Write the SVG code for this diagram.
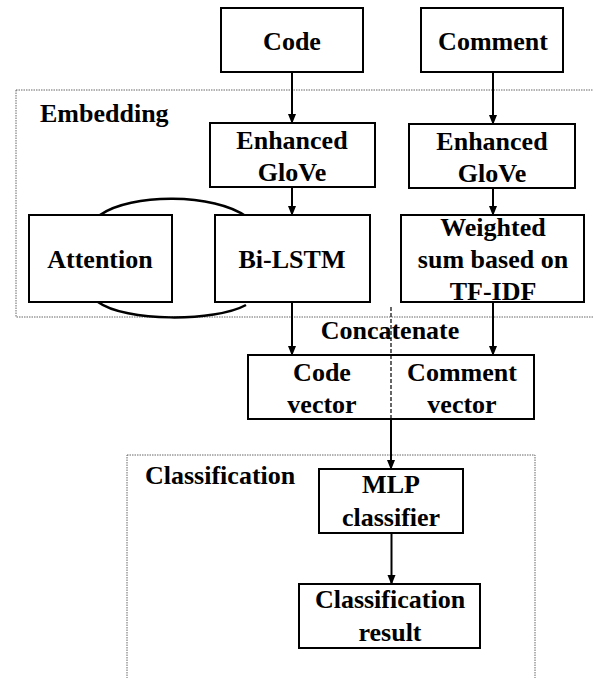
<svg xmlns="http://www.w3.org/2000/svg" width="593" height="678" viewBox="0 0 593 678">
<defs>
<marker id="ah" markerWidth="10" markerHeight="10" refX="9" refY="5" orient="auto" markerUnits="userSpaceOnUse">
<path d="M0,1 L10,5 L0,9 Z" fill="#000"/>
</marker>
<style>
text{font-family:"Liberation Serif","Times New Roman",serif;font-weight:bold;font-size:26px;fill:#000;text-anchor:middle}
.lbl{text-anchor:start}
.box{fill:#fff;stroke:#000;stroke-width:2}
.grp{fill:none;stroke:#666;stroke-width:1;stroke-dasharray:1.5,1}
.edge{fill:none;stroke:#000;stroke-width:2}
.arc{fill:none;stroke:#000;stroke-width:2.5}
.dash{fill:none;stroke:#000;stroke-width:1.2;stroke-dasharray:4,2}
</style>
</defs>
<rect width="593" height="678" fill="#fff"/>
<g id="embedding-group">
<rect class="grp" x="16" y="90" width="600" height="227"/>
<text class="lbl" x="40" y="122">Embedding</text>
</g>
<g id="classification-group">
<rect class="grp" x="127" y="455" width="408" height="250"/>
<text class="lbl" x="145" y="484">Classification</text>
</g>
<g id="connectors">
<line class="edge" x1="292" y1="72" x2="292" y2="123" marker-end="url(#ah)"/>
<line class="edge" x1="493" y1="72" x2="493" y2="124" marker-end="url(#ah)"/>
<line class="edge" x1="292" y1="187" x2="292" y2="215" marker-end="url(#ah)"/>
<line class="edge" x1="493" y1="188" x2="493" y2="215" marker-end="url(#ah)"/>
<line class="edge" x1="292" y1="302" x2="292" y2="355" marker-end="url(#ah)"/>
<line class="edge" x1="493" y1="302" x2="493" y2="355" marker-end="url(#ah)"/>
<path class="arc" d="M100,215 C130,193 215,193 247,217"/>
<path class="arc" d="M98,302 C125,322 215,322 246,305"/>
<line class="dash" x1="391" y1="307" x2="391" y2="418"/>
<line class="edge" x1="391" y1="418" x2="391" y2="469" marker-end="url(#ah)"/>
<line class="edge" x1="391.5" y1="533" x2="391.5" y2="584" marker-end="url(#ah)"/>
</g>
<g id="code"><rect class="box" x="221" y="8" width="142" height="64"/><text x="292" y="50">Code</text></g>
<g id="comment"><rect class="box" x="421" y="8" width="142" height="64"/><text x="493" y="50">Comment</text></g>
<g id="glove-code"><rect class="box" x="210" y="123" width="165" height="64"/><text x="292" y="149">Enhanced</text><text x="292" y="181">GloVe</text></g>
<g id="glove-comment"><rect class="box" x="409" y="124" width="166" height="64"/><text x="492" y="150">Enhanced</text><text x="492" y="182">GloVe</text></g>
<g id="attention"><rect class="box" x="29" y="215" width="143" height="87"/><text x="100" y="268">Attention</text></g>
<g id="bilstm"><rect class="box" x="215" y="215" width="155" height="87"/><text x="292" y="268">Bi-LSTM</text></g>
<g id="weighted"><rect class="box" x="401" y="215" width="183" height="87"/><text x="493" y="236">Weighted</text><text x="493" y="268">sum based on</text><text x="493" y="300">TF-IDF</text></g>
<text x="390" y="339">Concatenate</text>
<g id="code-vector"><path class="edge" d="M391,355 H248 V419 H391"/><text x="322" y="381">Code</text><text x="322" y="413">vector</text></g>
<g id="comment-vector"><path class="edge" d="M391,355 H534 V419 H391"/><text x="462" y="381">Comment</text><text x="462" y="413">vector</text></g>
<g id="mlp"><rect class="box" x="319" y="469" width="144" height="64"/><text x="391" y="493">MLP</text><text x="391" y="526">classifier</text></g>
<g id="result"><rect class="box" x="299" y="584" width="181" height="64"/><text x="390" y="608">Classification</text><text x="390" y="641">result</text></g>
</svg>
